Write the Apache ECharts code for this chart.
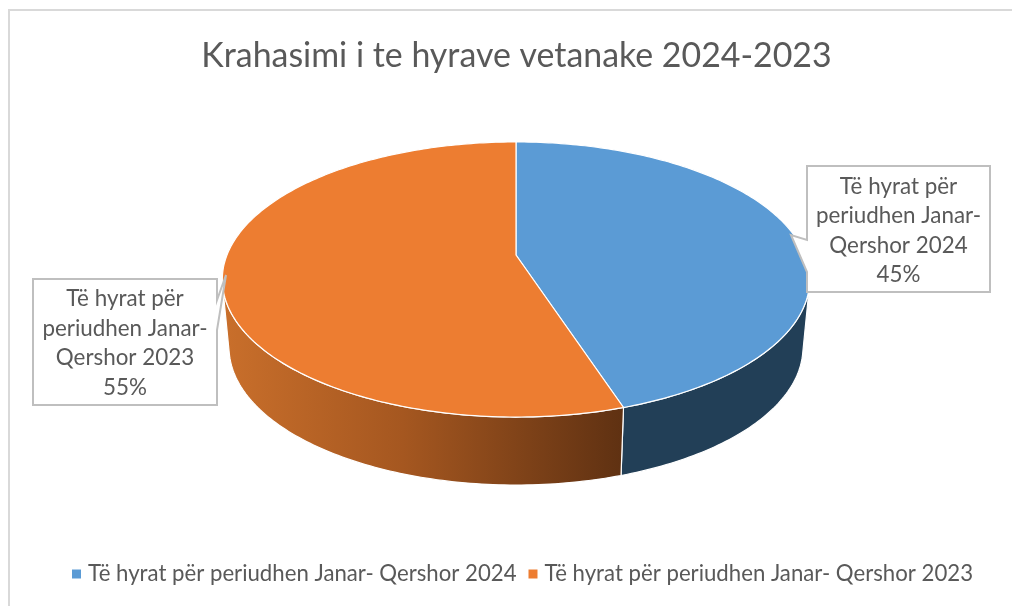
<!DOCTYPE html>
<html>
<head>
<meta charset="utf-8">
<script src="https://cdn.jsdelivr.net/npm/echarts@6/dist/echarts.min.js"></script>
<style>
    html, body { margin: 0; background: #ffffff; }
    #chart { width: 1012px; height: 606px; }
</style>
</head>
<body>
<div id="chart"></div>
<script>
const chartTitle = 'Krahasimi i te hyrave vetanake 2024-2023';
const categories = ['Të hyrat për periudhen Janar- Qershor 2024', 'Të hyrat për periudhen Janar- Qershor 2023'];
const calloutLabels = ['Të hyrat për\nperiudhen Janar-\nQershor 2024', 'Të hyrat për\nperiudhen Janar-\nQershor 2023'];
const values = [45, 55];

const FONT = 'Lato';
const TEXT_COLOR = '#595959';
const topColors = ['#5b9bd5', '#ed7d31'];
const wallColors = [
    '#223f57',
    {
        type: 'linear', x: 223, y: 0, x2: 623, y2: 0, global: true,
        colorStops: [
            { offset: 0, color: '#c96f2b' },
            { offset: 0.45, color: '#a55720' },
            { offset: 1, color: '#5f3112' }
        ]
    }
];

// callout boxes: [left, top, right, bottom], pointer tip, pointer base on the box side
const callouts = [
    { box: [807, 166, 990, 292], tip: [791, 235], base: [240, 272], side: 'left', textY: 231 },
    { box: [33, 279, 217, 405], tip: [226, 275], base: [300, 330], side: 'right', textY: 343.5 }
];

// the pie is a tilted disc, so the circle goes through a perspective projection
const CX = 516, CY = 255, RX = 289, PERSP = -0.178, RY = 87.8;
const DEPTH = 68, BOTTOM_SCALE = 0.977;
// only this part of the rim has a visible side wall
const WALL_FROM = 103 * Math.PI / 180, WALL_TO = 257 * Math.PI / 180;

const total = values.reduce((a, b) => a + b, 0);

function project(angle) {
    const u = Math.sin(angle);
    const v = -Math.cos(angle);
    const w = 1 / (1 + PERSP * v);
    return [CX + RX * u * w, (RY * v + CY) * w];
}

function lowerRim(p) {
    return [CX + (p[0] - CX) * BOTTOM_SCALE, p[1] + DEPTH];
}

function rimPoints(from, to) {
    const steps = Math.ceil(Math.abs(to - from) * 60);
    const pts = [];
    for (let i = 0; i <= steps; i++) {
        pts.push(project(from + (to - from) * i / steps));
    }
    return pts;
}

function renderSlice(index) {
    return function (params, api) {
        const before = values.slice(0, index).reduce((a, b) => a + b, 0);
        const start = before / total * Math.PI * 2;
        const end = (before + api.value(0)) / total * Math.PI * 2;
        const rim = rimPoints(start, end);
        const wallRim = rimPoints(Math.max(start, WALL_FROM), Math.min(end, WALL_TO));
        const wall = wallRim.concat(wallRim.map(lowerRim).reverse());
        const face = [[CX, CY]].concat(rim);
        return {
            type: 'group',
            children: [
                {
                    type: 'polygon',
                    shape: { points: wall },
                    style: { fill: wallColors[index], stroke: '#ffffff', lineWidth: 1.2 }
                },
                {
                    type: 'polygon',
                    shape: { points: face },
                    style: { fill: topColors[index], stroke: '#ffffff', lineWidth: 1.2 }
                }
            ]
        };
    };
}

function renderCallout(index) {
    return function (params, api) {
        const c = callouts[index];
        const [l, t, r, b] = c.box;
        const points = c.side === 'left'
            ? [[l, t], [r, t], [r, b], [l, b], [l, c.base[1]], c.tip, [l, c.base[0]]]
            : [[l, t], [r, t], [r, c.base[0]], c.tip, [r, c.base[1]], [r, b], [l, b]];
        const pct = Math.round(api.value(0) / total * 100);
        return {
            type: 'group',
            children: [
                {
                    type: 'polygon',
                    shape: { points: points },
                    style: { fill: '#ffffff', stroke: '#bfbfbf', lineWidth: 2 }
                },
                {
                    type: 'text',
                    x: (l + r) / 2,
                    y: c.textY,
                    style: {
                        text: calloutLabels[index] + '\n' + pct + '%',
                        font: '22.4px ' + FONT,
                        lineHeight: 29.5,
                        fill: TEXT_COLOR,
                        align: 'center',
                        verticalAlign: 'middle'
                    }
                }
            ]
        };
    };
}

const sliceSeries = categories.map((name, i) => ({
    name: name,
    type: 'custom',
    coordinateSystem: 'none',
    renderItem: renderSlice(i),
    itemStyle: { color: topColors[i] },
    data: [[values[i]]],
    silent: true,
    z: 2
}));

const calloutSeries = categories.map((name, i) => ({
    name: name,
    type: 'custom',
    coordinateSystem: 'none',
    renderItem: renderCallout(i),
    itemStyle: { color: topColors[i] },
    data: [[values[i]]],
    silent: true,
    z: 3
}));

const myChart = echarts.init(document.getElementById('chart'), null, { renderer: 'canvas' });

myChart.setOption({
    animation: false,
    backgroundColor: '#ffffff',
    title: {
        text: chartTitle,
        left: 511.5,
        textAlign: 'center',
        top: 34,
        textStyle: { color: TEXT_COLOR, fontFamily: FONT, fontSize: 33.9, fontWeight: 'normal' }
    },
    legend: {
        data: categories,
        left: 67,
        top: 558,
        icon: 'rect',
        itemWidth: 9,
        itemHeight: 9,
        itemGap: 12,
        selectedMode: false,
        textStyle: { color: TEXT_COLOR, fontFamily: FONT, fontSize: 22.2, padding: [0, 0, 0, 2] }
    },
    graphic: [{
        type: 'rect',
        shape: { x: 9, y: 10, width: 1100, height: 700 },
        style: { fill: 'none', stroke: '#d9d9d9', lineWidth: 2 },
        silent: true,
        z: 1
    }],
    series: sliceSeries.concat(calloutSeries)
});

window.addEventListener('resize', myChart.resize);
</script>
</body>
</html>
